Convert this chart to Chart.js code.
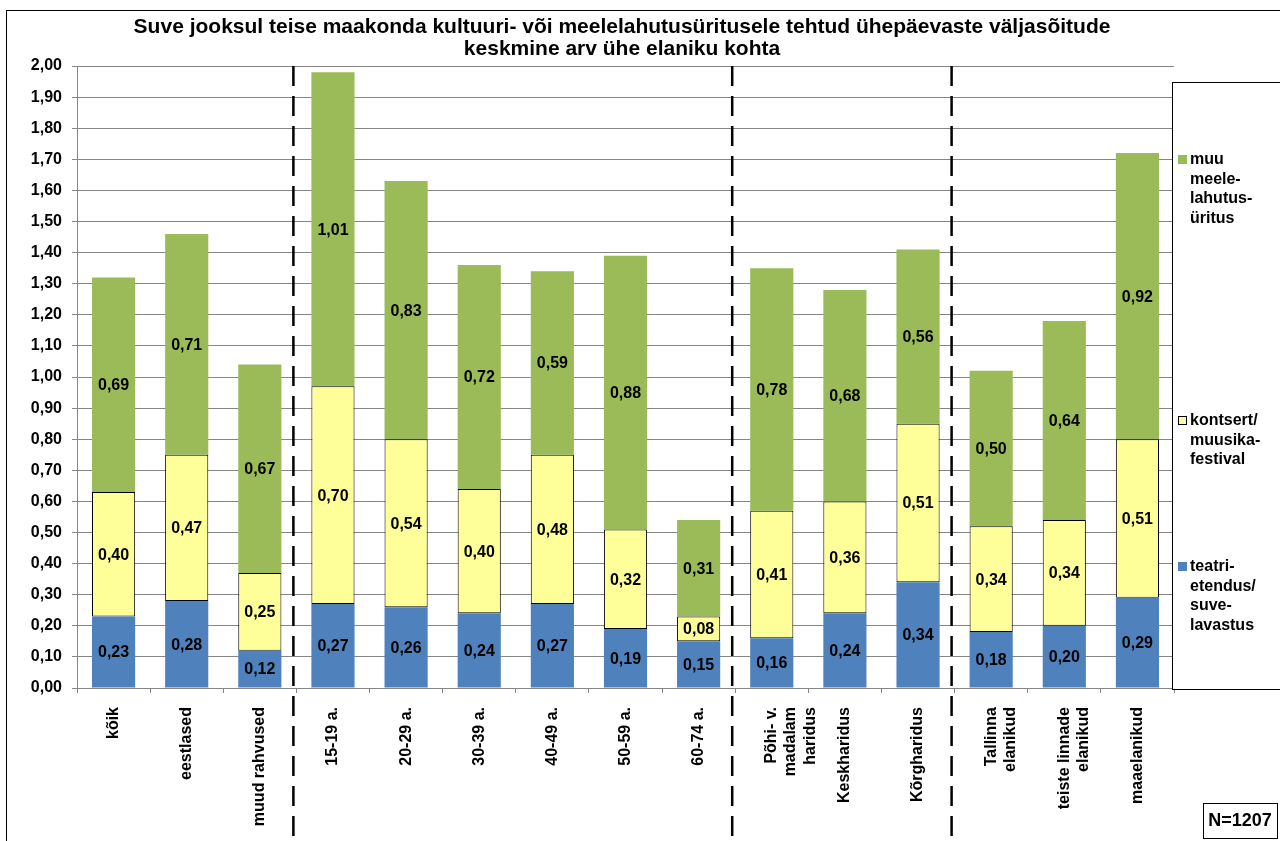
<!DOCTYPE html>
<html>
<head>
<meta charset="utf-8">
<script src="https://cdn.jsdelivr.net/npm/chart.js@4.4.0/dist/chart.umd.min.js"></script>
<style>
  html, body { margin: 0; padding: 0; background: #fff; }
  #wrap { width: 1280px; height: 841px; position: relative; }
</style>
</head>
<body>
<div id="wrap"><canvas id="myChart" width="1280" height="841"></canvas></div>
<script>
//* DATA *//
let categories = [
  'kõik', 'eestlased', 'muud rahvused',
  '15-19 a.', '20-29 a.', '30-39 a.', '40-49 a.', '50-59 a.', '60-74 a.',
  ['Põhi- v.', 'madalam', 'haridus'], 'Keskharidus', 'Kõrgharidus',
  ['Tallinna', 'elanikud'], ['teiste linnade', 'elanikud'], 'maaelanikud'
];
let teatriValues = [0.23, 0.28, 0.12, 0.27, 0.26, 0.24, 0.27, 0.19, 0.15, 0.16, 0.24, 0.34, 0.18, 0.20, 0.29];
let kontsertValues = [0.40, 0.47, 0.25, 0.70, 0.54, 0.40, 0.48, 0.32, 0.08, 0.41, 0.36, 0.51, 0.34, 0.34, 0.51];
let muuValues = [0.69, 0.71, 0.67, 1.01, 0.83, 0.72, 0.59, 0.88, 0.31, 0.78, 0.68, 0.56, 0.50, 0.64, 0.92];
let groupBreaks = [2, 8, 11]; // dashed line after these category indexes
let yMin = 0;
let yMax = 2;
let yStep = 0.1;

let titleLines = [
  'Suve jooksul teise maakonda kultuuri- või meelelahutusüritusele tehtud ühepäevaste väljasõitude',
  'keskmine arv ühe elaniku kohta'
];
let legendTeatri = ['teatri-', 'etendus/', 'suve-', 'lavastus'];
let legendKontsert = ['kontsert/', 'muusika-', 'festival'];
let legendMuu = ['muu', 'meele-', 'lahutus-', 'üritus'];
let sampleNote = 'N=1207';

//* HELPERS *//
function fmt(v) {
  return v.toFixed(2).replace('.', ',');
}

const FONT = '"Liberation Sans", Arial, sans-serif';

//* PLUGINS *//
let valueLabels = {
  id: 'valueLabels',
  afterDatasetsDraw(chart) {
    let ctx = chart.ctx;
    ctx.save();
    ctx.font = 'bold 16px ' + FONT;
    ctx.fillStyle = '#000';
    ctx.textAlign = 'center';
    ctx.textBaseline = 'middle';
    chart.data.datasets.forEach((ds, di) => {
      let meta = chart.getDatasetMeta(di);
      meta.data.forEach((bar, i) => {
        let y = (bar.y + bar.base) / 2;
        ctx.fillText(fmt(ds.data[i]), bar.x, y + 1);
      });
    });
    ctx.restore();
  }
};

let extras = {
  id: 'extras',
  beforeDraw(chart) {
    let ctx = chart.ctx;
    ctx.save();
    ctx.fillStyle = '#fff';
    ctx.fillRect(0, 0, chart.width, chart.height);
    ctx.restore();
  },
  afterDraw(chart) {
    let ctx = chart.ctx;
    let x = chart.scales.x;
    let area = chart.chartArea;
    ctx.save();

    // outer frame
    ctx.strokeStyle = '#000';
    ctx.lineWidth = 1;
    ctx.strokeRect(6.5, 10.5, 1300, 900);

    // title
    ctx.fillStyle = '#000';
    ctx.font = 'bold 21px ' + FONT;
    ctx.textAlign = 'center';
    ctx.textBaseline = 'middle';
    ctx.fillText(titleLines[0], 622, 27);
    ctx.fillText(titleLines[1], 622, 49);

    // dashed group separators
    ctx.setLineDash([20, 10]);
    ctx.lineWidth = 2.5;
    ctx.strokeStyle = '#000';
    groupBreaks.forEach(i => {
      let px = (x.getPixelForValue(i) + x.getPixelForValue(i + 1)) / 2 - 3;
      ctx.beginPath();
      ctx.moveTo(px, area.top);
      ctx.lineTo(px, chart.height);
      ctx.stroke();
    });
    ctx.setLineDash([]);

    // legend box
    ctx.lineWidth = 1;
    ctx.fillStyle = '#fff';
    ctx.fillRect(1172, 82, 120, 607);
    ctx.strokeRect(1172.5, 82.5, 120, 607);

    let items = [
      { lines: legendMuu, color: '#9BBB59', border: null, y: 160 },
      { lines: legendKontsert, color: '#FFFF99', border: '#000', y: 421 },
      { lines: legendTeatri, color: '#4F81BD', border: null, y: 567 }
    ];
    ctx.font = 'bold 16px ' + FONT;
    ctx.textAlign = 'left';
    items.forEach(it => {
      ctx.fillStyle = it.color;
      ctx.fillRect(1178, it.y - 5, 9, 9);
      if (it.border) {
        ctx.strokeStyle = it.border;
        ctx.strokeRect(1178.5, it.y - 4.5, 8, 8);
      }
      ctx.fillStyle = '#000';
      it.lines.forEach((ln, k) => {
        ctx.fillText(ln, 1190, it.y + k * 19.5);
      });
    });

    // N box
    ctx.strokeStyle = '#000';
    ctx.strokeRect(1203.5, 803.5, 74, 35);
    ctx.font = 'bold 18px ' + FONT;
    ctx.textAlign = 'center';
    ctx.fillText(sampleNote, 1240, 821);

    ctx.restore();
  }
};

//* CHART *//
let ctx = document.getElementById('myChart');

let chartObj = {
  type: 'bar',
  data: {
    labels: categories,
    datasets: [
      {
        label: legendTeatri.join(''),
        data: teatriValues,
        backgroundColor: '#4F81BD',
        borderWidth: 0
      },
      {
        label: legendKontsert.join(''),
        data: kontsertValues,
        backgroundColor: '#FFFF99',
        borderColor: '#000',
        borderWidth: 1,
        borderSkipped: false
      },
      {
        label: legendMuu.join(''),
        data: muuValues,
        backgroundColor: '#9BBB59',
        borderWidth: 0
      }
    ]
  },
  options: {
    responsive: false,
    animation: false,
    categoryPercentage: 1,
    barPercentage: 0.59,
    layout: { padding: { top: 66, right: 106, left: 0, bottom: 0 } },
    plugins: {
      legend: { display: false },
      title: { display: false },
      tooltip: { enabled: false }
    },
    scales: {
      x: {
        stacked: true,
        afterFit(scale) { scale.height = 153; },
        grid: {
          display: true,
          drawOnChartArea: false,
          tickLength: 5,
          color: '#868686'
        },
        border: { color: '#868686' },
        ticks: {
          autoSkip: false,
          maxRotation: 90,
          minRotation: 90,
          padding: 14,
          color: '#000',
          font: { family: FONT, size: 16, weight: 'bold' }
        }
      },
      y: {
        stacked: true,
        min: yMin,
        max: yMax,
        afterFit(scale) { scale.width = 77; },
        grid: { color: '#868686', tickLength: 5 },
        border: { color: '#868686' },
        ticks: {
          stepSize: yStep,
          padding: 10,
          color: '#000',
          font: { family: FONT, size: 16, weight: 'bold' },
          callback: v => fmt(v)
        }
      }
    }
  },
  plugins: [extras, valueLabels]
};

new Chart(ctx, chartObj);
</script>
</body>
</html>
